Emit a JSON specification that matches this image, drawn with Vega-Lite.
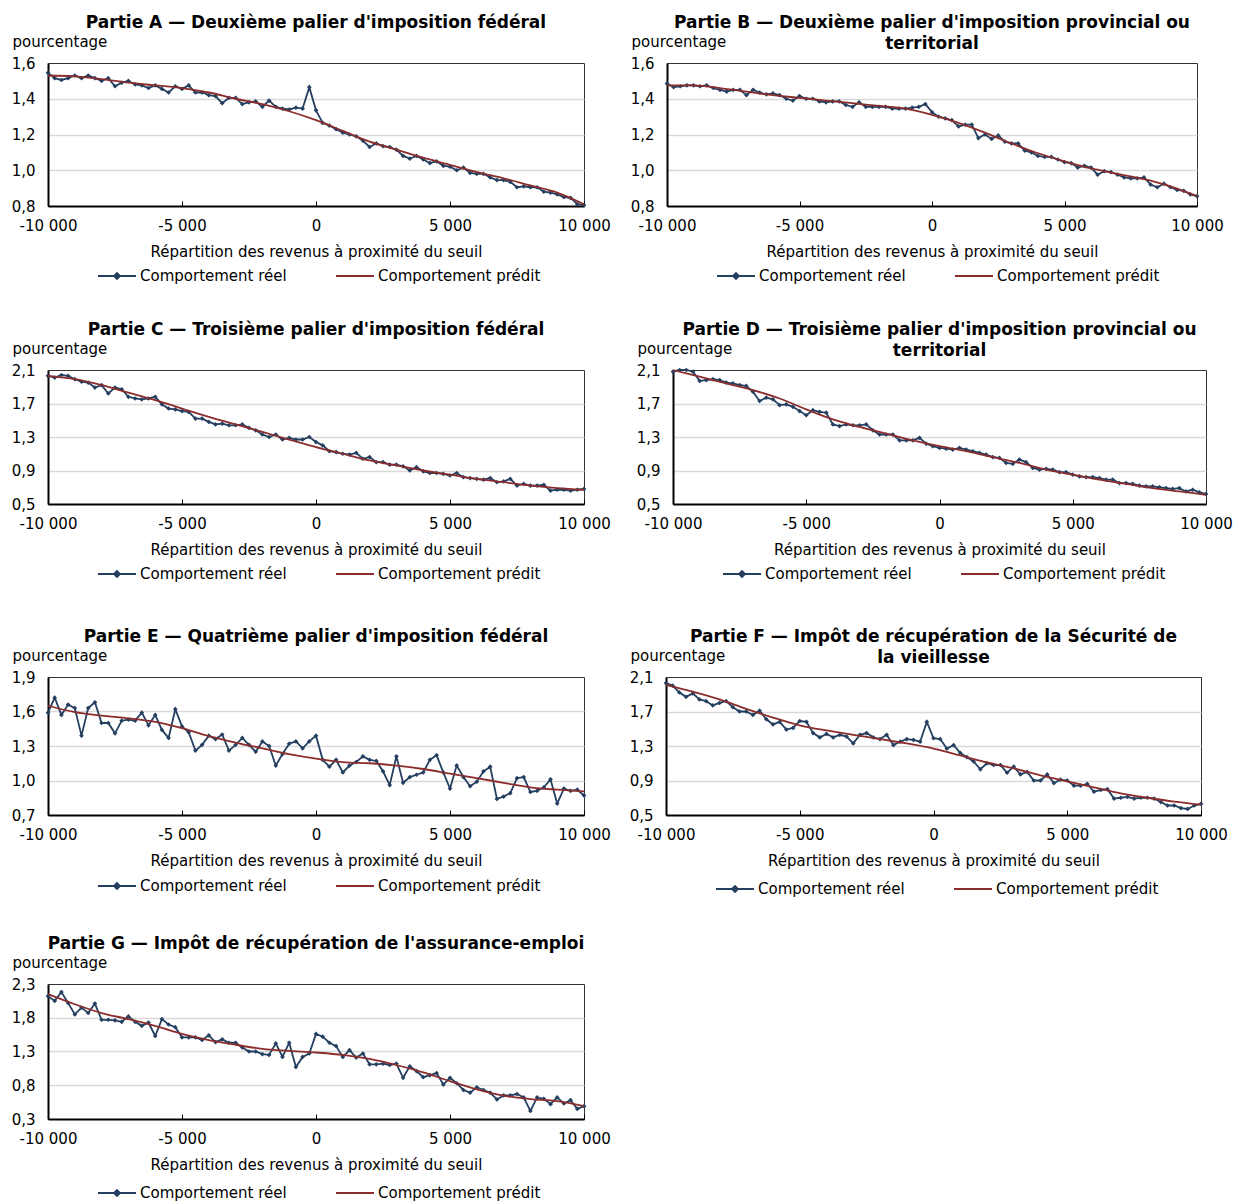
{
  "$schema": "https://vega.github.io/schema/vega-lite/v6.json",
  "autosize": {"type": "pad"},
  "padding": {"left": 10, "top": 13, "right": 5, "bottom": 5},
  "background": "white",
  "datasets": {
    "reel": [
      {"x":-10000,"A":1.545,"B":1.485,"C":2.03,"D":2.08,"E":1.59,"F":2.03,"G":2.12},
      {"x":-9750,"A":1.515,"B":1.465,"C":2.01,"D":2.10,"E":1.72,"F":2.00,"G":2.05},
      {"x":-9500,"A":1.505,"B":1.47,"C":2.04,"D":2.10,"E":1.57,"F":1.92,"G":2.18},
      {"x":-9250,"A":1.515,"B":1.475,"C":2.03,"D":2.08,"E":1.66,"F":1.87,"G":2.02},
      {"x":-9000,"A":1.53,"B":1.475,"C":1.99,"D":1.97,"E":1.63,"F":1.91,"G":1.85},
      {"x":-8750,"A":1.515,"B":1.47,"C":1.96,"D":1.98,"E":1.39,"F":1.84,"G":1.95},
      {"x":-8500,"A":1.53,"B":1.475,"C":1.95,"D":1.99,"E":1.63,"F":1.82,"G":1.87},
      {"x":-8250,"A":1.515,"B":1.46,"C":1.89,"D":1.98,"E":1.68,"F":1.77,"G":2.01},
      {"x":-8000,"A":1.50,"B":1.45,"C":1.92,"D":1.95,"E":1.50,"F":1.80,"G":1.77},
      {"x":-7750,"A":1.515,"B":1.44,"C":1.82,"D":1.94,"E":1.50,"F":1.82,"G":1.77},
      {"x":-7500,"A":1.47,"B":1.45,"C":1.89,"D":1.92,"E":1.41,"F":1.75,"G":1.76},
      {"x":-7250,"A":1.49,"B":1.45,"C":1.87,"D":1.91,"E":1.52,"F":1.70,"G":1.74},
      {"x":-7000,"A":1.50,"B":1.42,"C":1.78,"D":1.84,"E":1.53,"F":1.70,"G":1.82},
      {"x":-6750,"A":1.48,"B":1.45,"C":1.76,"D":1.73,"E":1.52,"F":1.66,"G":1.74},
      {"x":-6500,"A":1.475,"B":1.435,"C":1.75,"D":1.77,"E":1.59,"F":1.71,"G":1.68},
      {"x":-6250,"A":1.46,"B":1.425,"C":1.76,"D":1.75,"E":1.48,"F":1.61,"G":1.73},
      {"x":-6000,"A":1.475,"B":1.43,"C":1.78,"D":1.68,"E":1.57,"F":1.55,"G":1.53},
      {"x":-5750,"A":1.455,"B":1.42,"C":1.69,"D":1.69,"E":1.44,"F":1.58,"G":1.78},
      {"x":-5500,"A":1.435,"B":1.40,"C":1.64,"D":1.66,"E":1.37,"F":1.49,"G":1.70},
      {"x":-5250,"A":1.47,"B":1.39,"C":1.63,"D":1.61,"E":1.62,"F":1.51,"G":1.66},
      {"x":-5000,"A":1.455,"B":1.415,"C":1.61,"D":1.56,"E":1.47,"F":1.59,"G":1.51},
      {"x":-4750,"A":1.475,"B":1.40,"C":1.60,"D":1.62,"E":1.42,"F":1.58,"G":1.51},
      {"x":-4500,"A":1.435,"B":1.40,"C":1.52,"D":1.60,"E":1.26,"F":1.45,"G":1.51},
      {"x":-4250,"A":1.435,"B":1.385,"C":1.52,"D":1.59,"E":1.31,"F":1.40,"G":1.47},
      {"x":-4000,"A":1.42,"B":1.38,"C":1.48,"D":1.45,"E":1.39,"F":1.44,"G":1.54},
      {"x":-3750,"A":1.415,"B":1.385,"C":1.45,"D":1.43,"E":1.36,"F":1.40,"G":1.44},
      {"x":-3500,"A":1.375,"B":1.385,"C":1.46,"D":1.45,"E":1.40,"F":1.43,"G":1.48},
      {"x":-3250,"A":1.405,"B":1.365,"C":1.44,"D":1.44,"E":1.26,"F":1.41,"G":1.43},
      {"x":-3000,"A":1.405,"B":1.355,"C":1.44,"D":1.44,"E":1.31,"F":1.33,"G":1.43},
      {"x":-2750,"A":1.37,"B":1.38,"C":1.45,"D":1.45,"E":1.37,"F":1.43,"G":1.36},
      {"x":-2500,"A":1.38,"B":1.355,"C":1.41,"D":1.38,"E":1.31,"F":1.45,"G":1.30},
      {"x":-2250,"A":1.385,"B":1.355,"C":1.38,"D":1.33,"E":1.25,"F":1.40,"G":1.30},
      {"x":-2000,"A":1.355,"B":1.355,"C":1.33,"D":1.33,"E":1.34,"F":1.38,"G":1.26},
      {"x":-1750,"A":1.39,"B":1.355,"C":1.30,"D":1.33,"E":1.30,"F":1.43,"G":1.25},
      {"x":-1500,"A":1.355,"B":1.345,"C":1.33,"D":1.26,"E":1.13,"F":1.31,"G":1.42},
      {"x":-1250,"A":1.345,"B":1.345,"C":1.27,"D":1.26,"E":1.23,"F":1.35,"G":1.22},
      {"x":-1000,"A":1.34,"B":1.345,"C":1.29,"D":1.26,"E":1.32,"F":1.38,"G":1.43},
      {"x":-750,"A":1.35,"B":1.35,"C":1.27,"D":1.29,"E":1.34,"F":1.37,"G":1.07},
      {"x":-500,"A":1.345,"B":1.355,"C":1.27,"D":1.22,"E":1.28,"F":1.35,"G":1.22},
      {"x":-250,"A":1.465,"B":1.37,"C":1.30,"D":1.19,"E":1.34,"F":1.58,"G":1.27},
      {"x":0,"A":1.335,"B":1.325,"C":1.24,"D":1.17,"E":1.39,"F":1.39,"G":1.56},
      {"x":250,"A":1.265,"B":1.30,"C":1.20,"D":1.16,"E":1.18,"F":1.38,"G":1.52},
      {"x":500,"A":1.25,"B":1.29,"C":1.13,"D":1.15,"E":1.12,"F":1.27,"G":1.43},
      {"x":750,"A":1.23,"B":1.28,"C":1.12,"D":1.17,"E":1.18,"F":1.31,"G":1.38},
      {"x":1000,"A":1.21,"B":1.245,"C":1.10,"D":1.15,"E":1.07,"F":1.22,"G":1.22},
      {"x":1250,"A":1.20,"B":1.255,"C":1.09,"D":1.13,"E":1.13,"F":1.17,"G":1.32},
      {"x":1500,"A":1.19,"B":1.255,"C":1.11,"D":1.11,"E":1.16,"F":1.12,"G":1.21},
      {"x":1750,"A":1.165,"B":1.18,"C":1.04,"D":1.09,"E":1.21,"F":1.03,"G":1.27},
      {"x":2000,"A":1.13,"B":1.20,"C":1.06,"D":1.06,"E":1.18,"F":1.10,"G":1.11},
      {"x":2250,"A":1.15,"B":1.175,"C":1.00,"D":1.05,"E":1.17,"F":1.08,"G":1.11},
      {"x":2500,"A":1.135,"B":1.195,"C":1.00,"D":0.99,"E":1.08,"F":1.08,"G":1.12},
      {"x":2750,"A":1.13,"B":1.16,"C":0.97,"D":0.98,"E":0.96,"F":0.99,"G":1.10},
      {"x":3000,"A":1.115,"B":1.15,"C":0.97,"D":1.03,"E":1.21,"F":1.06,"G":1.12},
      {"x":3250,"A":1.08,"B":1.15,"C":0.95,"D":1.00,"E":0.98,"F":0.97,"G":0.91},
      {"x":3500,"A":1.065,"B":1.11,"C":0.90,"D":0.93,"E":1.03,"F":1.00,"G":1.08},
      {"x":3750,"A":1.08,"B":1.10,"C":0.94,"D":0.91,"E":1.05,"F":0.90,"G":1.01},
      {"x":4000,"A":1.06,"B":1.08,"C":0.89,"D":0.92,"E":1.07,"F":0.90,"G":0.92},
      {"x":4250,"A":1.04,"B":1.075,"C":0.87,"D":0.91,"E":1.18,"F":0.97,"G":0.95},
      {"x":4500,"A":1.05,"B":1.075,"C":0.87,"D":0.88,"E":1.22,"F":0.87,"G":0.98},
      {"x":4750,"A":1.025,"B":1.06,"C":0.86,"D":0.88,"E":1.07,"F":0.91,"G":0.81},
      {"x":5000,"A":1.02,"B":1.045,"C":0.84,"D":0.85,"E":0.93,"F":0.90,"G":0.91},
      {"x":5250,"A":1.00,"B":1.04,"C":0.87,"D":0.83,"E":1.13,"F":0.84,"G":0.83},
      {"x":5500,"A":1.015,"B":1.015,"C":0.82,"D":0.82,"E":1.03,"F":0.84,"G":0.73},
      {"x":5750,"A":0.985,"B":1.025,"C":0.81,"D":0.82,"E":0.95,"F":0.86,"G":0.69},
      {"x":6000,"A":0.98,"B":1.015,"C":0.80,"D":0.81,"E":0.99,"F":0.77,"G":0.77},
      {"x":6250,"A":0.98,"B":0.975,"C":0.79,"D":0.79,"E":1.08,"F":0.79,"G":0.73},
      {"x":6500,"A":0.96,"B":0.995,"C":0.81,"D":0.79,"E":1.12,"F":0.80,"G":0.69},
      {"x":6750,"A":0.945,"B":0.99,"C":0.76,"D":0.75,"E":0.84,"F":0.69,"G":0.59},
      {"x":7000,"A":0.945,"B":0.975,"C":0.77,"D":0.75,"E":0.86,"F":0.70,"G":0.65},
      {"x":7250,"A":0.935,"B":0.96,"C":0.80,"D":0.74,"E":0.89,"F":0.71,"G":0.65},
      {"x":7500,"A":0.905,"B":0.955,"C":0.72,"D":0.72,"E":1.02,"F":0.69,"G":0.67},
      {"x":7750,"A":0.91,"B":0.955,"C":0.74,"D":0.71,"E":1.03,"F":0.70,"G":0.62},
      {"x":8000,"A":0.905,"B":0.96,"C":0.72,"D":0.71,"E":0.90,"F":0.70,"G":0.42},
      {"x":8250,"A":0.905,"B":0.92,"C":0.72,"D":0.70,"E":0.91,"F":0.69,"G":0.62},
      {"x":8500,"A":0.88,"B":0.905,"C":0.73,"D":0.69,"E":0.94,"F":0.65,"G":0.60},
      {"x":8750,"A":0.875,"B":0.925,"C":0.66,"D":0.68,"E":1.01,"F":0.61,"G":0.52},
      {"x":9000,"A":0.865,"B":0.905,"C":0.67,"D":0.69,"E":0.80,"F":0.61,"G":0.62},
      {"x":9250,"A":0.85,"B":0.89,"C":0.67,"D":0.65,"E":0.93,"F":0.58,"G":0.53},
      {"x":9500,"A":0.845,"B":0.885,"C":0.66,"D":0.67,"E":0.91,"F":0.57,"G":0.58},
      {"x":9750,"A":0.81,"B":0.865,"C":0.67,"D":0.64,"E":0.92,"F":0.61,"G":0.45},
      {"x":10000,"A":0.805,"B":0.855,"C":0.68,"D":0.62,"E":0.87,"F":0.63,"G":0.49}
    ],
    "predit": [
      {"x":-10000,"A":1.53,"B":1.475,"C":2.03,"D":2.10,"E":1.65,"F":2.01,"G":2.15},
      {"x":-9000,"A":1.525,"B":1.475,"C":1.99,"D":2.02,"E":1.595,"F":1.93,"G":2.00},
      {"x":-8000,"A":1.51,"B":1.46,"C":1.92,"D":1.94,"E":1.565,"F":1.84,"G":1.87},
      {"x":-7000,"A":1.49,"B":1.44,"C":1.83,"D":1.86,"E":1.54,"F":1.73,"G":1.78},
      {"x":-6000,"A":1.475,"B":1.42,"C":1.74,"D":1.76,"E":1.51,"F":1.63,"G":1.68},
      {"x":-5000,"A":1.46,"B":1.405,"C":1.64,"D":1.63,"E":1.455,"F":1.54,"G":1.56},
      {"x":-4000,"A":1.435,"B":1.39,"C":1.54,"D":1.51,"E":1.385,"F":1.48,"G":1.47},
      {"x":-3000,"A":1.40,"B":1.375,"C":1.45,"D":1.42,"E":1.33,"F":1.43,"G":1.40},
      {"x":-2000,"A":1.37,"B":1.36,"C":1.36,"D":1.34,"E":1.28,"F":1.38,"G":1.34},
      {"x":-1000,"A":1.33,"B":1.345,"C":1.27,"D":1.26,"E":1.23,"F":1.33,"G":1.31},
      {"x":0,"A":1.28,"B":1.31,"C":1.18,"D":1.19,"E":1.19,"F":1.27,"G":1.285},
      {"x":1000,"A":1.22,"B":1.265,"C":1.10,"D":1.13,"E":1.16,"F":1.19,"G":1.25},
      {"x":2000,"A":1.16,"B":1.21,"C":1.02,"D":1.06,"E":1.15,"F":1.11,"G":1.19},
      {"x":3000,"A":1.115,"B":1.15,"C":0.96,"D":0.99,"E":1.13,"F":1.04,"G":1.10},
      {"x":4000,"A":1.07,"B":1.095,"C":0.90,"D":0.91,"E":1.10,"F":0.96,"G":0.99},
      {"x":5000,"A":1.03,"B":1.05,"C":0.85,"D":0.85,"E":1.06,"F":0.89,"G":0.86},
      {"x":6000,"A":0.99,"B":1.01,"C":0.80,"D":0.79,"E":1.02,"F":0.82,"G":0.74},
      {"x":7000,"A":0.955,"B":0.98,"C":0.76,"D":0.74,"E":0.98,"F":0.75,"G":0.645},
      {"x":8000,"A":0.915,"B":0.95,"C":0.72,"D":0.69,"E":0.94,"F":0.70,"G":0.595},
      {"x":9000,"A":0.875,"B":0.91,"C":0.69,"D":0.65,"E":0.92,"F":0.655,"G":0.565},
      {"x":10000,"A":0.81,"B":0.855,"C":0.67,"D":0.61,"E":0.905,"F":0.62,"G":0.49}
    ]
  },
  "config": {
    "font": "DejaVu Sans",
    "locale": {"number": {"decimal": ",", "thousands": "\u00a0", "grouping": [3], "currency": ["", "\u00a0$"], "minus": "-"}},
    "view": {"stroke": "#333333", "strokeWidth": 1},
    "title": {"font": "DejaVu Sans", "fontSize": 17, "fontWeight": "bold", "color": "#000000", "anchor": "middle", "frame": "group", "lineHeight": 21, "offset": 2.5},
    "axis": {"labelFont": "DejaVu Sans", "labelFontSize": 15, "labelColor": "#000000", "titleFont": "DejaVu Sans", "titleFontSize": 15, "titleFontWeight": "normal", "titleColor": "#000000", "domainColor": "#000000", "domainWidth": 2},
    "axisX": {"grid": false, "tickSize": -5, "tickColor": "#000000", "tickWidth": 1, "labelPadding": 17, "labelFlush": false, "format": ",d", "titlePadding": 11},
    "axisY": {"ticks": false, "tickCount": 10, "labelPadding": 13, "gridWidth": 1.5, "titleAngle": 0, "titleAlign": "left", "titleBaseline": "middle", "titleX": -36, "titleY": -21.5, "format": ".1f"},
    "legend": {"orient": "none", "direction": "horizontal", "labelFont": "DejaVu Sans", "labelFontSize": 15, "labelColor": "#000000", "labelLimit": 0, "symbolSize": 1444, "symbolStrokeWidth": 2, "columnPadding": 45, "labelOffset": 3, "legendX": 49}
  },
  "bounds": "flush",
  "spacing": 307,
  "resolve": {"scale": {"color": "independent"}, "legend": {"color": "independent"}},
  "vconcat": [
    {
      "bounds": "flush",
      "spacing": 83,
      "resolve": {"scale": {"color": "independent"}, "legend": {"color": "independent"}},
      "hconcat": [
        {
          "width": 536, "height": 143,
          "title": {"text": "Partie A — Deuxième palier d'imposition fédéral"},
          "layer": [
            {"data": {"name": "reel"}, "mark": {"type": "line", "strokeWidth": 1.8, "point": {"shape": "diamond", "filled": true, "size": 22}},
             "encoding": {
               "x": {"field": "x", "type": "quantitative", "scale": {"domain": [-10000, 10000], "nice": false}, "axis": {"values": [-10000, -5000, 0, 5000, 10000], "title": "Répartition des revenus à proximité du seuil"}},
               "y": {"field": "A", "type": "quantitative", "scale": {"domain": [0.8, 1.6], "nice": false, "zero": false}, "axis": {"values": [0.8, 1.0, 1.2, 1.4, 1.6], "title": "pourcentage", "gridColor": {"condition": {"test": "datum.value < 0.85 || datum.value > 1.55", "value": "transparent"}, "value": "#d9d9d9"}}},
               "color": {"datum": "Comportement réel", "type": "nominal", "scale": {"domain": ["Comportement réel", "Comportement prédit"], "range": ["#243f60", "#8b2d2d"]}, "legend": {"title": null, "legendY": 193, "encode": {"symbols": {"update": {"shape": {"signal": "datum.value === 'Comportement réel' ? 'M-1,0H1M-0.15,0L0,-0.15L0.15,0L0,0.15Z' : 'M-1,0H1'"}, "fill": {"signal": "datum.value === 'Comportement réel' ? '#243f60' : '#8b2d2d'"}, "stroke": {"signal": "datum.value === 'Comportement réel' ? '#243f60' : '#8b2d2d'"}}}}}}
             }},
            {"data": {"name": "predit"}, "mark": {"type": "line", "strokeWidth": 1.8, "interpolate": "monotone"},
             "encoding": {"x": {"field": "x", "type": "quantitative"}, "y": {"field": "A", "type": "quantitative"}, "color": {"datum": "Comportement prédit", "type": "nominal"}}}
          ]
        },
        {
          "width": 530, "height": 143,
          "title": {"text": ["Partie B — Deuxième palier d'imposition provincial ou", "territorial"], "offset": -18.5},
          "layer": [
            {"data": {"name": "reel"}, "mark": {"type": "line", "strokeWidth": 1.8, "point": {"shape": "diamond", "filled": true, "size": 22}},
             "encoding": {
               "x": {"field": "x", "type": "quantitative", "scale": {"domain": [-10000, 10000], "nice": false}, "axis": {"values": [-10000, -5000, 0, 5000, 10000], "title": "Répartition des revenus à proximité du seuil"}},
               "y": {"field": "B", "type": "quantitative", "scale": {"domain": [0.8, 1.6], "nice": false, "zero": false}, "axis": {"values": [0.8, 1.0, 1.2, 1.4, 1.6], "title": "pourcentage", "gridColor": {"condition": {"test": "datum.value < 0.85 || datum.value > 1.55", "value": "transparent"}, "value": "#d9d9d9"}}},
               "color": {"datum": "Comportement réel", "type": "nominal", "scale": {"domain": ["Comportement réel", "Comportement prédit"], "range": ["#243f60", "#8b2d2d"]}, "legend": {"title": null, "legendY": 193, "encode": {"symbols": {"update": {"shape": {"signal": "datum.value === 'Comportement réel' ? 'M-1,0H1M-0.15,0L0,-0.15L0.15,0L0,0.15Z' : 'M-1,0H1'"}, "fill": {"signal": "datum.value === 'Comportement réel' ? '#243f60' : '#8b2d2d'"}, "stroke": {"signal": "datum.value === 'Comportement réel' ? '#243f60' : '#8b2d2d'"}}}}}}
             }},
            {"data": {"name": "predit"}, "mark": {"type": "line", "strokeWidth": 1.8, "interpolate": "monotone"},
             "encoding": {"x": {"field": "x", "type": "quantitative"}, "y": {"field": "B", "type": "quantitative"}, "color": {"datum": "Comportement prédit", "type": "nominal"}}}
          ]
        }
      ]
    },
    {
      "bounds": "flush",
      "spacing": 89,
      "resolve": {"scale": {"color": "independent"}, "legend": {"color": "independent"}},
      "hconcat": [
        {
          "width": 536, "height": 134,
          "title": {"text": "Partie C — Troisième palier d'imposition fédéral"},
          "layer": [
            {"data": {"name": "reel"}, "mark": {"type": "line", "strokeWidth": 1.8, "point": {"shape": "diamond", "filled": true, "size": 22}},
             "encoding": {
               "x": {"field": "x", "type": "quantitative", "scale": {"domain": [-10000, 10000], "nice": false}, "axis": {"values": [-10000, -5000, 0, 5000, 10000], "title": "Répartition des revenus à proximité du seuil"}},
               "y": {"field": "C", "type": "quantitative", "scale": {"domain": [0.5, 2.1], "nice": false, "zero": false}, "axis": {"values": [0.5, 0.9, 1.3, 1.7, 2.1], "title": "pourcentage", "gridColor": {"condition": {"test": "datum.value < 0.6 || datum.value > 2.0", "value": "transparent"}, "value": "#d9d9d9"}}},
               "color": {"datum": "Comportement réel", "type": "nominal", "scale": {"domain": ["Comportement réel", "Comportement prédit"], "range": ["#243f60", "#8b2d2d"]}, "legend": {"title": null, "legendY": 184, "encode": {"symbols": {"update": {"shape": {"signal": "datum.value === 'Comportement réel' ? 'M-1,0H1M-0.15,0L0,-0.15L0.15,0L0,0.15Z' : 'M-1,0H1'"}, "fill": {"signal": "datum.value === 'Comportement réel' ? '#243f60' : '#8b2d2d'"}, "stroke": {"signal": "datum.value === 'Comportement réel' ? '#243f60' : '#8b2d2d'"}}}}}}
             }},
            {"data": {"name": "predit"}, "mark": {"type": "line", "strokeWidth": 1.8, "interpolate": "monotone"},
             "encoding": {"x": {"field": "x", "type": "quantitative"}, "y": {"field": "C", "type": "quantitative"}, "color": {"datum": "Comportement prédit", "type": "nominal"}}}
          ]
        },
        {
          "width": 533, "height": 134,
          "title": {"text": ["Partie D — Troisième palier d'imposition provincial ou", "territorial"], "offset": -18.5},
          "layer": [
            {"data": {"name": "reel"}, "mark": {"type": "line", "strokeWidth": 1.8, "point": {"shape": "diamond", "filled": true, "size": 22}},
             "encoding": {
               "x": {"field": "x", "type": "quantitative", "scale": {"domain": [-10000, 10000], "nice": false}, "axis": {"values": [-10000, -5000, 0, 5000, 10000], "title": "Répartition des revenus à proximité du seuil"}},
               "y": {"field": "D", "type": "quantitative", "scale": {"domain": [0.5, 2.1], "nice": false, "zero": false}, "axis": {"values": [0.5, 0.9, 1.3, 1.7, 2.1], "title": "pourcentage", "gridColor": {"condition": {"test": "datum.value < 0.6 || datum.value > 2.0", "value": "transparent"}, "value": "#d9d9d9"}}},
               "color": {"datum": "Comportement réel", "type": "nominal", "scale": {"domain": ["Comportement réel", "Comportement prédit"], "range": ["#243f60", "#8b2d2d"]}, "legend": {"title": null, "legendY": 184, "encode": {"symbols": {"update": {"shape": {"signal": "datum.value === 'Comportement réel' ? 'M-1,0H1M-0.15,0L0,-0.15L0.15,0L0,0.15Z' : 'M-1,0H1'"}, "fill": {"signal": "datum.value === 'Comportement réel' ? '#243f60' : '#8b2d2d'"}, "stroke": {"signal": "datum.value === 'Comportement réel' ? '#243f60' : '#8b2d2d'"}}}}}}
             }},
            {"data": {"name": "predit"}, "mark": {"type": "line", "strokeWidth": 1.8, "interpolate": "monotone"},
             "encoding": {"x": {"field": "x", "type": "quantitative"}, "y": {"field": "D", "type": "quantitative"}, "color": {"datum": "Comportement prédit", "type": "nominal"}}}
          ]
        }
      ]
    },
    {
      "bounds": "flush",
      "spacing": 82,
      "resolve": {"scale": {"color": "independent"}, "legend": {"color": "independent"}},
      "hconcat": [
        {
          "width": 536, "height": 138,
          "title": {"text": "Partie E — Quatrième palier d'imposition fédéral"},
          "layer": [
            {"data": {"name": "reel"}, "mark": {"type": "line", "strokeWidth": 1.8, "point": {"shape": "diamond", "filled": true, "size": 22}},
             "encoding": {
               "x": {"field": "x", "type": "quantitative", "scale": {"domain": [-10000, 10000], "nice": false}, "axis": {"values": [-10000, -5000, 0, 5000, 10000], "title": "Répartition des revenus à proximité du seuil"}},
               "y": {"field": "E", "type": "quantitative", "scale": {"domain": [0.7, 1.9], "nice": false, "zero": false}, "axis": {"values": [0.7, 1.0, 1.3, 1.6, 1.9], "title": "pourcentage", "gridColor": {"condition": {"test": "datum.value < 0.8 || datum.value > 1.8", "value": "transparent"}, "value": "#d9d9d9"}}},
               "color": {"datum": "Comportement réel", "type": "nominal", "scale": {"domain": ["Comportement réel", "Comportement prédit"], "range": ["#243f60", "#8b2d2d"]}, "legend": {"title": null, "legendY": 189, "encode": {"symbols": {"update": {"shape": {"signal": "datum.value === 'Comportement réel' ? 'M-1,0H1M-0.15,0L0,-0.15L0.15,0L0,0.15Z' : 'M-1,0H1'"}, "fill": {"signal": "datum.value === 'Comportement réel' ? '#243f60' : '#8b2d2d'"}, "stroke": {"signal": "datum.value === 'Comportement réel' ? '#243f60' : '#8b2d2d'"}}}}}}
             }},
            {"data": {"name": "predit"}, "mark": {"type": "line", "strokeWidth": 1.8, "interpolate": "monotone"},
             "encoding": {"x": {"field": "x", "type": "quantitative"}, "y": {"field": "E", "type": "quantitative"}, "color": {"datum": "Comportement prédit", "type": "nominal"}}}
          ]
        },
        {
          "width": 535, "height": 138,
          "title": {"text": ["Partie F — Impôt de récupération de la Sécurité de", "la vieillesse"], "offset": -18.5},
          "layer": [
            {"data": {"name": "reel"}, "mark": {"type": "line", "strokeWidth": 1.8, "point": {"shape": "diamond", "filled": true, "size": 22}},
             "encoding": {
               "x": {"field": "x", "type": "quantitative", "scale": {"domain": [-10000, 10000], "nice": false}, "axis": {"values": [-10000, -5000, 0, 5000, 10000], "title": "Répartition des revenus à proximité du seuil"}},
               "y": {"field": "F", "type": "quantitative", "scale": {"domain": [0.5, 2.1], "nice": false, "zero": false}, "axis": {"values": [0.5, 0.9, 1.3, 1.7, 2.1], "title": "pourcentage", "gridColor": {"condition": {"test": "datum.value < 0.6 || datum.value > 2.0", "value": "transparent"}, "value": "#d9d9d9"}}},
               "color": {"datum": "Comportement réel", "type": "nominal", "scale": {"domain": ["Comportement réel", "Comportement prédit"], "range": ["#243f60", "#8b2d2d"]}, "legend": {"title": null, "legendY": 192, "encode": {"symbols": {"update": {"shape": {"signal": "datum.value === 'Comportement réel' ? 'M-1,0H1M-0.15,0L0,-0.15L0.15,0L0,0.15Z' : 'M-1,0H1'"}, "fill": {"signal": "datum.value === 'Comportement réel' ? '#243f60' : '#8b2d2d'"}, "stroke": {"signal": "datum.value === 'Comportement réel' ? '#243f60' : '#8b2d2d'"}}}}}}
             }},
            {"data": {"name": "predit"}, "mark": {"type": "line", "strokeWidth": 1.8, "interpolate": "monotone"},
             "encoding": {"x": {"field": "x", "type": "quantitative"}, "y": {"field": "F", "type": "quantitative"}, "color": {"datum": "Comportement prédit", "type": "nominal"}}}
          ]
        }
      ]
    },
    {
      "width": 536, "height": 135,
      "title": {"text": "Partie G — Impôt de récupération de l'assurance-emploi"},
      "layer": [
        {"data": {"name": "reel"}, "mark": {"type": "line", "strokeWidth": 1.8, "point": {"shape": "diamond", "filled": true, "size": 22}},
         "encoding": {
           "x": {"field": "x", "type": "quantitative", "scale": {"domain": [-10000, 10000], "nice": false}, "axis": {"values": [-10000, -5000, 0, 5000, 10000], "title": "Répartition des revenus à proximité du seuil"}},
           "y": {"field": "G", "type": "quantitative", "scale": {"domain": [0.3, 2.3], "nice": false, "zero": false}, "axis": {"values": [0.3, 0.8, 1.3, 1.8, 2.3], "title": "pourcentage", "gridColor": {"condition": {"test": "datum.value < 0.4 || datum.value > 2.2", "value": "transparent"}, "value": "#d9d9d9"}}},
           "color": {"datum": "Comportement réel", "type": "nominal", "scale": {"domain": ["Comportement réel", "Comportement prédit"], "range": ["#243f60", "#8b2d2d"]}, "legend": {"title": null, "legendY": 189, "encode": {"symbols": {"update": {"shape": {"signal": "datum.value === 'Comportement réel' ? 'M-1,0H1M-0.15,0L0,-0.15L0.15,0L0,0.15Z' : 'M-1,0H1'"}, "fill": {"signal": "datum.value === 'Comportement réel' ? '#243f60' : '#8b2d2d'"}, "stroke": {"signal": "datum.value === 'Comportement réel' ? '#243f60' : '#8b2d2d'"}}}}}}
         }},
        {"data": {"name": "predit"}, "mark": {"type": "line", "strokeWidth": 1.8, "interpolate": "monotone"},
         "encoding": {"x": {"field": "x", "type": "quantitative"}, "y": {"field": "G", "type": "quantitative"}, "color": {"datum": "Comportement prédit", "type": "nominal"}}}
      ]
    }
  ]
}
